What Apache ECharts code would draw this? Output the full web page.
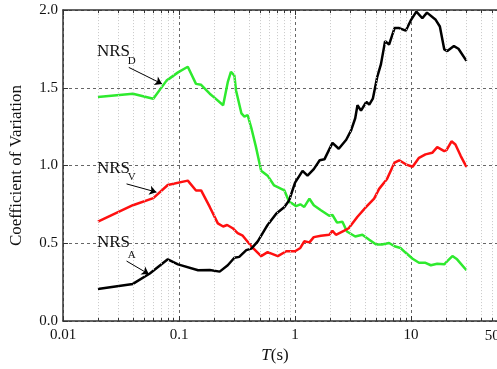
<!DOCTYPE html>
<html>
<head>
<meta charset="utf-8">
<script src="https://cdn.jsdelivr.net/npm/echarts@6/dist/echarts.min.js"></script>
<style>
  html, body { margin: 0; padding: 0; background: #fff; }
  #chart { width: 497px; height: 369px; }
</style>
</head>
<body>
<div id="chart"></div>
<script>
// Period T (s) and coefficient of variation for each normalised response spectrum
const periodsA = [0.02, 0.04, 0.056, 0.08, 0.098, 0.146, 0.184, 0.224, 0.263, 0.30, 0.33, 0.38, 0.42, 0.477, 0.58, 0.69, 0.81, 0.89, 1.0, 1.16, 1.28, 1.45, 1.63, 1.79, 2.1, 2.38, 2.76, 3.04, 3.3, 3.45, 3.7, 4.12, 4.36, 4.68, 5.1, 5.5, 5.97, 6.46, 7.2, 7.9, 9.0, 10, 11.1, 12.5, 13.7, 16.3, 17.7, 19.3, 20.5, 23.4, 25.6, 30];
const covA = [0.207, 0.239, 0.306, 0.397, 0.365, 0.327, 0.329, 0.318, 0.359, 0.407, 0.413, 0.456, 0.466, 0.513, 0.618, 0.692, 0.734, 0.777, 0.89, 0.966, 0.935, 0.977, 1.034, 1.04, 1.146, 1.108, 1.166, 1.226, 1.304, 1.388, 1.353, 1.41, 1.392, 1.43, 1.568, 1.652, 1.80, 1.778, 1.884, 1.884, 1.867, 1.937, 1.99, 1.947, 1.983, 1.937, 1.894, 1.747, 1.736, 1.768, 1.751, 1.673];

const periodsV = [0.02, 0.04, 0.06, 0.08, 0.119, 0.14, 0.155, 0.184, 0.216, 0.24, 0.26, 0.29, 0.32, 0.354, 0.42, 0.51, 0.58, 0.71, 0.84, 1.0, 1.11, 1.2, 1.33, 1.45, 1.67, 1.97, 2.1, 2.25, 2.63, 2.9, 3.45, 4.1, 4.8, 5.3, 6.2, 7.2, 7.9, 9.0, 10.3, 11.7, 13.3, 15.2, 16.8, 19.3, 20.2, 22.3, 24.1, 26.8, 30];
const covV = [0.639, 0.745, 0.791, 0.875, 0.903, 0.84, 0.84, 0.734, 0.628, 0.608, 0.618, 0.597, 0.565, 0.549, 0.481, 0.418, 0.443, 0.418, 0.449, 0.449, 0.47, 0.513, 0.506, 0.54, 0.549, 0.555, 0.58, 0.555, 0.58, 0.597, 0.671, 0.734, 0.787, 0.85, 0.913, 1.019, 1.034, 1.008, 0.992, 1.05, 1.072, 1.082, 1.118, 1.093, 1.099, 1.156, 1.135, 1.061, 0.992];

const periodsD = [0.02, 0.04, 0.06, 0.078, 0.098, 0.119, 0.14, 0.155, 0.184, 0.203, 0.24, 0.263, 0.28, 0.30, 0.31, 0.345, 0.366, 0.39, 0.42, 0.46, 0.51, 0.58, 0.66, 0.76, 0.81, 0.89, 0.95, 1.02, 1.11, 1.2, 1.33, 1.45, 1.67, 1.97, 2.1, 2.3, 2.56, 2.8, 3.3, 3.8, 4.36, 5.0, 5.6, 6.46, 7.2, 8.1, 9.0, 10.3, 11.7, 13.3, 14.8, 16.8, 19.3, 20.5, 22.7, 24.9, 30];
const covD = [1.441, 1.462, 1.43, 1.546, 1.599, 1.635, 1.525, 1.519, 1.462, 1.435, 1.388, 1.536, 1.603, 1.578, 1.483, 1.335, 1.314, 1.325, 1.241, 1.12, 0.966, 0.935, 0.872, 0.85, 0.84, 0.766, 0.755, 0.739, 0.751, 0.734, 0.787, 0.745, 0.713, 0.677, 0.682, 0.633, 0.639, 0.576, 0.544, 0.555, 0.523, 0.492, 0.492, 0.502, 0.481, 0.47, 0.439, 0.401, 0.375, 0.375, 0.359, 0.369, 0.365, 0.386, 0.418, 0.397, 0.327];

// Intermediate (2..9 x decade) periods used for minor gridlines and ticks
const minorPeriods = [0.02, 0.03, 0.04, 0.05, 0.06, 0.07, 0.08, 0.09,
                      0.2, 0.3, 0.4, 0.5, 0.6, 0.7, 0.8, 0.9,
                      2, 3, 4, 5, 6, 7, 8, 9,
                      20, 30, 40, 50];
const extraTickLabels = [50];

// Curve labels: [name, subscript, text anchor, subscript anchor, arrow start, arrow end]
const curveLabels = [
  { main: 'NRS', sub: 'D', at: [0.0196, 1.734], subAt: [0.0362, 1.670], from: [0.0369, 1.631], to: [0.0714, 1.525] },
  { main: 'NRS', sub: 'V', at: [0.0196, 0.982], subAt: [0.0362, 0.928], from: [0.0353, 0.882], to: [0.0639, 0.829] },
  { main: 'NRS', sub: 'A', at: [0.0196, 0.502], subAt: [0.0362, 0.425], from: [0.0353, 0.386], to: [0.0549, 0.302] }
];

const SERIF = '"Liberation Serif", "DejaVu Serif", serif';
const AXIS_COLOR = '#333';

function pairs(xs, ys) { return xs.map((x, i) => [x, ys[i]]); }

function textPoint(coord, text, size) {
  return {
    coord: coord, symbolSize: 0,
    label: { show: true, formatter: text, position: 'right', distance: 0,
             fontFamily: SERIF, fontSize: size, color: '#111' }
  };
}

const chart = echarts.init(document.getElementById('chart'), null, { renderer: 'canvas' });

const xCommon = { type: 'log', logBase: 10, min: 0.01, max: 55 };

chart.setOption({
  animation: false,
  backgroundColor: '#fff',
  grid: { left: 63, right: -1, top: 10, bottom: 43, containLabel: false },
  xAxis: [
    Object.assign({}, xCommon, {
      position: 'bottom',
      name: '{i|T}{n|(s)}',
      nameLocation: 'middle',
      nameGap: 19,
      nameTextStyle: {
        padding: [0, 10, 0, 0],
        rich: {
          i: { fontFamily: SERIF, fontSize: 17, fontStyle: 'italic', color: '#111' },
          n: { fontFamily: SERIF, fontSize: 17, color: '#111' }
        }
      },
      axisLine: { show: true, lineStyle: { color: AXIS_COLOR, width: 1.5 } },
      axisTick: { show: true, inside: true, length: 5, lineStyle: { color: AXIS_COLOR, width: 1 } },
      minorTick: { show: false },
      axisLabel: { fontFamily: SERIF, fontSize: 15, color: '#111', margin: 6, showMaxLabel: false },
      splitLine: { show: true, lineStyle: { color: '#666', width: 1, type: [3, 3] } }
    }),
    Object.assign({}, xCommon, {
      position: 'top',
      axisLine: { show: true, lineStyle: { color: AXIS_COLOR, width: 1.5 } },
      axisTick: { show: true, inside: true, length: 5, lineStyle: { color: AXIS_COLOR, width: 1 } },
      axisLabel: { show: false },
      splitLine: { show: false }
    })
  ],
  yAxis: [{
    type: 'value', min: 0, max: 2, interval: 0.5,
    name: 'Coefficient of Variation',
    nameLocation: 'middle',
    nameGap: 38,
    nameTextStyle: { fontFamily: SERIF, fontSize: 17, color: '#111' },
    axisLine: { show: true, lineStyle: { color: AXIS_COLOR, width: 1.5 } },
    axisTick: { show: true, inside: true, length: 5, lineStyle: { color: AXIS_COLOR, width: 1 } },
    axisLabel: { fontFamily: SERIF, fontSize: 15, color: '#111', margin: 5,
                 formatter: v => v.toFixed(1) },
    splitLine: { show: true, lineStyle: { color: '#666', width: 1, type: [3, 3] } }
  }],
  series: [
    // minor vertical gridlines
    {
      type: 'line', data: [], silent: true, z: 1,
      markLine: {
        silent: true, symbol: ['none', 'none'], animation: false,
        label: { show: false },
        lineStyle: { color: '#c8c8c8', width: 1, type: [1, 2] },
        data: minorPeriods.map(p => ({ xAxis: p }))
      }
    },
    // minor ticks along the top and bottom frame, plus the extra tick label
    {
      type: 'line', data: [], silent: true, z: 3,
      markLine: {
        silent: true, symbol: ['none', 'none'], animation: false,
        label: { show: false },
        lineStyle: { color: AXIS_COLOR, width: 1, type: 'solid' },
        data: minorPeriods.flatMap(p => [
          [{ coord: [p, 0] }, { coord: [p, 0.02] }],
          [{ coord: [p, 2] }, { coord: [p, 1.98] }]
        ])
      },
      markPoint: {
        silent: true, animation: false,
        data: extraTickLabels.map(p => ({
          coord: [p, 0], symbolSize: 0,
          label: { show: true, formatter: String(p), position: 'bottom', distance: 7,
                   fontFamily: SERIF, fontSize: 15, color: '#111' }
        }))
      }
    },
    {
      name: 'NRS_D', type: 'line', z: 2,
      data: pairs(periodsD, covD),
      showSymbol: false, symbol: 'none',
      lineStyle: { color: '#2eea2e', width: 2.5 },
      itemStyle: { color: '#2eea2e' }
    },
    {
      name: 'NRS_V', type: 'line', z: 2,
      data: pairs(periodsV, covV),
      showSymbol: false, symbol: 'none',
      lineStyle: { color: '#ff1010', width: 2.5 },
      itemStyle: { color: '#ff1010' }
    },
    {
      name: 'NRS_A', type: 'line', z: 2,
      data: pairs(periodsA, covA),
      showSymbol: false, symbol: 'none',
      lineStyle: { color: '#000', width: 2.5 },
      itemStyle: { color: '#000' }
    },
    // curve names with pointer arrows
    {
      type: 'line', data: [], silent: true, z: 4,
      markLine: {
        silent: true, animation: false,
        symbol: ['none', 'arrow'], symbolSize: 7,
        label: { show: false },
        lineStyle: { color: '#000', width: 1, type: 'solid' },
        data: curveLabels.map(c => [{ coord: c.from }, { coord: c.to }])
      },
      markPoint: {
        silent: true, animation: false,
        data: curveLabels.flatMap(c => [
          textPoint(c.at, c.main, 17),
          textPoint(c.subAt, c.sub, 11)
        ])
      }
    }
  ]
});
</script>
</body>
</html>
